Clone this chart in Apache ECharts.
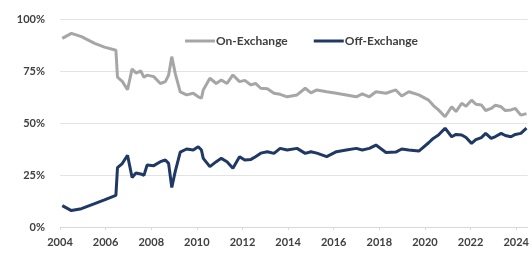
<!DOCTYPE html>
<html>
<head>
<meta charset="utf-8">
<script src="https://cdn.jsdelivr.net/npm/echarts@6/dist/echarts.min.js"></script>
<style>
  html, body { margin: 0; padding: 0; background: #fff; }
  #chart { width: 532px; height: 255px; }
</style>
</head>
<body>
<div id="chart"></div>
<script>
  // sample dates as decimal years
  const years = [
    2004.1, 2004.5, 2004.94, 2005.52, 2005.95, 2006.45, 2006.52, 2006.73, 2006.96, 2007.16,
    2007.33, 2007.54, 2007.68, 2007.82, 2008.11, 2008.4, 2008.62, 2008.76, 2008.9, 2009.05,
    2009.27, 2009.55, 2009.84, 2010.06, 2010.2, 2010.28, 2010.57, 2010.85, 2011.07, 2011.32,
    2011.58, 2011.87, 2012.1, 2012.37, 2012.57, 2012.8, 2013.09, 2013.38, 2013.65, 2013.96,
    2014.39, 2014.75, 2015.0, 2015.26, 2015.69, 2016.12, 2016.55, 2016.99, 2017.25, 2017.56,
    2017.85, 2018.29, 2018.72, 2018.98, 2019.29, 2019.73, 2020.16, 2020.36, 2020.59, 2020.88,
    2021.17, 2021.36, 2021.61, 2021.8, 2022.04, 2022.23, 2022.47, 2022.66, 2022.9, 2023.09,
    2023.34, 2023.52, 2023.77, 2023.96, 2024.2, 2024.45
  ];
  const onExchange = [
    90.7, 93.1, 91.5, 88.3, 86.5, 85, 72, 70, 66, 76,
    74, 75, 72, 73, 72.3, 69, 69.9, 73, 81.9, 73.9,
    65, 63.5, 64.3, 62.6, 61.9, 65.9, 71.5, 69, 70.7, 69,
    73.1, 69.9, 70.5, 68.3, 69, 66.7, 66.5, 64.3, 63.8, 62.6,
    63.5, 66.7, 64.5, 65.9, 65, 64.3, 63.5, 62.6, 64, 62.6,
    65, 64.3, 65.9, 63, 65, 63.5, 61, 58.5, 56.3, 53,
    57.8, 55.5, 59.5, 58, 61, 59, 58.7, 56, 57, 58.5,
    57.8, 56, 56.3, 57, 53.8, 54.5
  ];
  const offExchange = [
    10.3, 7.9, 8.8, 11.2, 13, 15.2, 28.5, 30.5, 34.5, 23.8,
    26, 25.5, 24.8, 29.8, 29.5, 31.4, 32.2, 30.6, 19, 26.6,
    36, 37.5, 37, 38.6, 37, 33, 29, 31.4, 33, 31.4,
    28.2, 33.8, 32.2, 32.5, 33.8, 35.5, 36.2, 35.4, 37.8, 37,
    37.8, 35.4, 36.2, 35.5, 33.8, 36.2, 37, 37.8, 37, 37.8,
    39.4, 35.8, 36, 37.5, 37, 36.5, 40.5, 42.6, 44.2, 47.5,
    43.4, 44.5, 44.2, 43, 40.2, 42, 43, 45, 42.6, 43.5,
    45, 44, 43.4, 44.5, 45, 47.5
  ];

  const labelFont = { fontFamily: 'Lato', fontWeight: 'bold', fontSize: 11, color: '#404040' };

  const chart = echarts.init(document.getElementById('chart'));
  chart.setOption({
    animation: false,
    grid: { left: 60, right: 0, top: 19, bottom: 28 },
    legend: {
      left: 180,
      top: 30,
      itemGap: 26,
      itemWidth: 30,
      itemHeight: 3,
      icon: 'rect',
      textStyle: { fontFamily: 'Lato', fontWeight: 'bold', fontSize: 12, color: '#404040', padding: [0, 0, 0, -4] },
      data: ['On-Exchange', 'Off-Exchange']
    },
    xAxis: {
      type: 'value',
      min: 2004,
      max: 2024.5,
      interval: 2,
      splitLine: { show: false },
      axisLine: { lineStyle: { color: '#d9d9d9' } },
      axisTick: { length: 3, lineStyle: { color: '#d9d9d9' } },
      axisLabel: Object.assign({
        margin: 10,
        showMaxLabel: false,
        formatter: v => (v % 2 === 0 ? String(v) : '')
      }, labelFont)
    },
    yAxis: {
      type: 'value',
      min: 0,
      max: 100,
      interval: 25,
      axisLine: { show: false },
      axisTick: { show: false },
      splitLine: { lineStyle: { color: '#e3e3e3' } },
      axisLabel: Object.assign({ margin: 15, formatter: '{value}%' }, labelFont)
    },
    series: [
      {
        name: 'On-Exchange',
        type: 'line',
        symbol: 'none',
        color: '#a6a6a6',
        lineStyle: { width: 3, color: '#a6a6a6' },
        data: years.map((y, i) => [y, onExchange[i]])
      },
      {
        name: 'Off-Exchange',
        type: 'line',
        symbol: 'none',
        color: '#1f3864',
        lineStyle: { width: 3, color: '#1f3864' },
        data: years.map((y, i) => [y, offExchange[i]])
      }
    ]
  });
</script>
</body>
</html>
